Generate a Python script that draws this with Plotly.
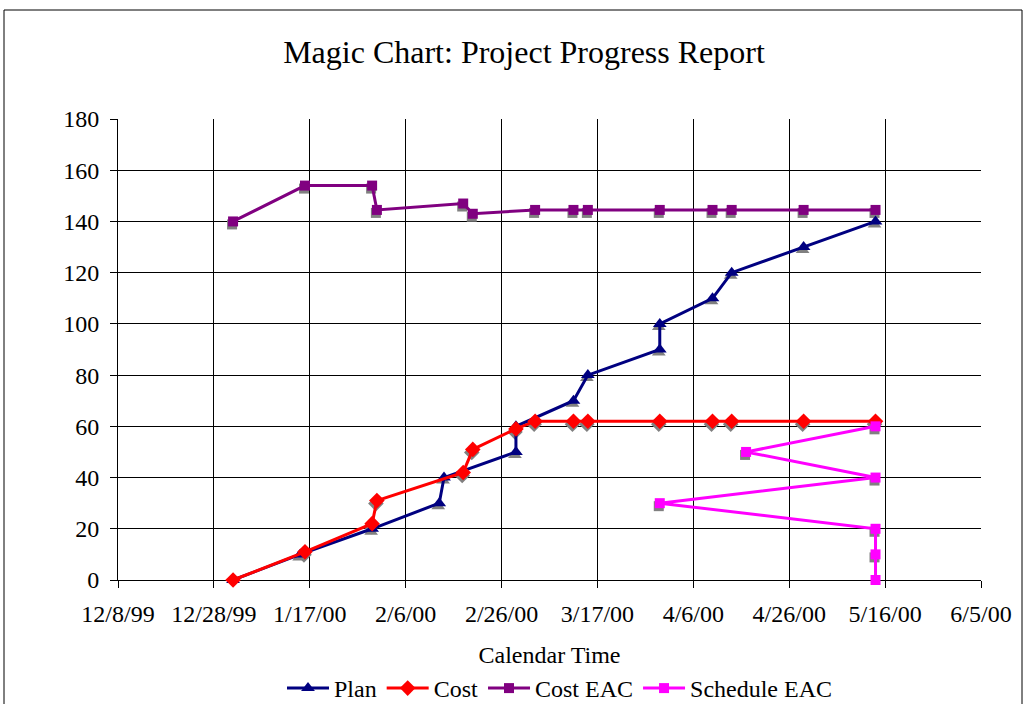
import plotly.graph_objects as go
import pandas as pd

# ---------------- data ----------------
plan_dates = ["2000-01-01", "2000-01-15", "2000-01-30", "2000-02-13", "2000-02-14",
              "2000-02-29", "2000-02-29", "2000-03-12", "2000-03-15", "2000-03-30",
              "2000-03-30", "2000-04-10", "2000-04-14", "2000-04-29", "2000-05-14"]
plan_values = [0, 10, 20, 30, 40, 50, 60, 70, 80, 90, 100, 110, 120, 130, 140]

cost_dates = ["2000-01-01", "2000-01-16", "2000-01-30", "2000-01-31", "2000-02-18",
              "2000-02-20", "2000-02-29", "2000-03-04", "2000-03-12", "2000-03-15",
              "2000-03-30", "2000-04-10", "2000-04-14", "2000-04-29", "2000-05-14"]
cost_values = [0, 11, 22, 31, 42, 51, 59, 62, 62, 62, 62, 62, 62, 62, 62]

cost_eac_dates = ["2000-01-01", "2000-01-16", "2000-01-30", "2000-01-31", "2000-02-18",
                  "2000-02-20", "2000-03-04", "2000-03-12", "2000-03-15", "2000-03-30",
                  "2000-04-10", "2000-04-14", "2000-04-29", "2000-05-14"]
cost_eac_values = [140, 154, 154, 144.5, 147, 143, 144.5, 144.5, 144.5, 144.5,
                   144.5, 144.5, 144.5, 144.5]

sched_eac_dates = ["2000-05-14", "2000-05-14", "2000-05-14", "2000-03-30",
                   "2000-05-14", "2000-04-17", "2000-05-14"]
sched_eac_values = [0, 10, 20, 30, 40, 50, 60]

x_tick_vals = ["1999-12-08", "1999-12-28", "2000-01-17", "2000-02-06", "2000-02-26",
               "2000-03-17", "2000-04-06", "2000-04-26", "2000-05-16", "2000-06-05"]
x_tick_text = ["12/8/99", "12/28/99", "1/17/00", "2/6/00", "2/26/00",
               "3/17/00", "4/6/00", "4/26/00", "5/16/00", "6/5/00"]
y_tick_vals = [0, 20, 40, 60, 80, 100, 120, 140, 160, 180]

series = [
    ("Plan", plan_dates, plan_values, "#000080", "triangle-up", 12),
    ("Cost", cost_dates, cost_values, "#FF0000", "diamond", 12),
    ("Cost EAC", cost_eac_dates, cost_eac_values, "#800080", "square", 10),
    ("Schedule EAC", sched_eac_dates, sched_eac_values, "#FF00FF", "square", 10),
]

# ---------------- layout geometry ----------------
W, H = 1026, 704
ML, MR, MT, MB = 118, 45, 119, 124
PW, PH = W - ML - MR, H - MT - MB

x_start, x_end = pd.Timestamp("1999-12-08"), pd.Timestamp("2000-06-05")
y_min, y_max = 0, 180
day_px = PW / ((x_end - x_start).days)
unit_px = PH / (y_max - y_min)

# shadow offset (px): left 1, down 3
sdx, sdy = -1, 3
sh_x0 = x_start - pd.Timedelta(days=sdx / day_px)
sh_x1 = x_end - pd.Timedelta(days=sdx / day_px)
sh_y0 = y_min + sdy / unit_px
sh_y1 = y_max + sdy / unit_px

FONT = "Liberation Serif, Times New Roman, serif"
FS = 24

fig = go.Figure()

# base subplot (axes, grid, ticks) - draws nothing itself
fig.add_trace(go.Scatter(x=plan_dates, y=plan_values, mode="none",
                         showlegend=False, hoverinfo="skip"))

# shadow markers (grey, offset) on x2/y2
for name, xs, ys, color, sym, size in series:
    fig.add_trace(go.Scatter(
        x=xs, y=ys, mode="markers", xaxis="x2", yaxis="y2",
        marker=dict(symbol=sym, size=size, color="#808080", line=dict(width=0)),
        showlegend=False, hoverinfo="skip", cliponaxis=False))

# real series on x3/y3
for name, xs, ys, color, sym, size in series:
    fig.add_trace(go.Scatter(
        x=xs, y=ys, mode="lines+markers", name=name, xaxis="x3", yaxis="y3",
        line=dict(color=color, width=3),
        marker=dict(symbol=sym, size=size, color=color, line=dict(width=0)),
        cliponaxis=False))

axis_font = dict(family=FONT, size=FS, color="black")

fig.update_layout(
    width=W, height=H,
    margin=dict(l=ML, r=MR, t=MT, b=MB, autoexpand=False),
    paper_bgcolor="white",
    plot_bgcolor="rgba(0,0,0,0)",
    font=dict(family=FONT, size=FS, color="black"),
    title=dict(text="Magic Chart: Project Progress Report",
               font=dict(family=FONT, size=32, color="black"),
               x=524 / W, xref="container", xanchor="center",
               y=1 - 52 / H, yref="container", yanchor="middle"),
    xaxis=dict(type="date", range=[x_start, x_end],
               tickmode="array", tickvals=x_tick_vals, ticktext=x_tick_text,
               showgrid=True, gridcolor="black", gridwidth=1,
               showline=True, linecolor="black", linewidth=1,
               ticks="outside", ticklen=7, tickcolor="black", tickwidth=1,
               tickfont=axis_font, zeroline=False, automargin=False,
               ticklabelstandoff=5,
               title=dict(text="Calendar Time", font=axis_font, standoff=20)),
    yaxis=dict(range=[y_min, y_max], tickmode="array", tickvals=y_tick_vals,
               showgrid=True, gridcolor="black", gridwidth=1,
               showline=True, linecolor="black", linewidth=1,
               ticks="outside", ticklen=7, tickcolor="black", tickwidth=1,
               tickfont=axis_font, zeroline=False, automargin=False,
               ticklabelstandoff=6),
    xaxis2=dict(type="date", range=[sh_x0, sh_x1], visible=False,
                domain=[0, 1], anchor="y2"),
    yaxis2=dict(range=[sh_y0, sh_y1], visible=False, domain=[0, 1], anchor="x2"),
    xaxis3=dict(type="date", range=[x_start, x_end], visible=False,
                domain=[0, 1], anchor="y3"),
    yaxis3=dict(range=[y_min, y_max], visible=False, domain=[0, 1], anchor="x3"),
    legend=dict(orientation="h", x=(560 - ML) / PW, xanchor="center",
                y=(580 - 666) / PH, yanchor="top",
                font=dict(family=FONT, size=FS, color="black"),
                bgcolor="rgba(0,0,0,0)", itemwidth=42),
    showlegend=True,
    shapes=[dict(type="rect", xref="paper", yref="paper",
                 x0=(4 - ML) / PW, x1=(1022 - ML) / PW,
                 y0=(580 - 720) / PH, y1=(580 - 10) / PH,
                 line=dict(color="black", width=1), fillcolor="rgba(0,0,0,0)",
                 layer="below")],
)

fig.write_html("out.html", config={"displayModeBar": False},
               post_script="document.body.style.margin='0';")
